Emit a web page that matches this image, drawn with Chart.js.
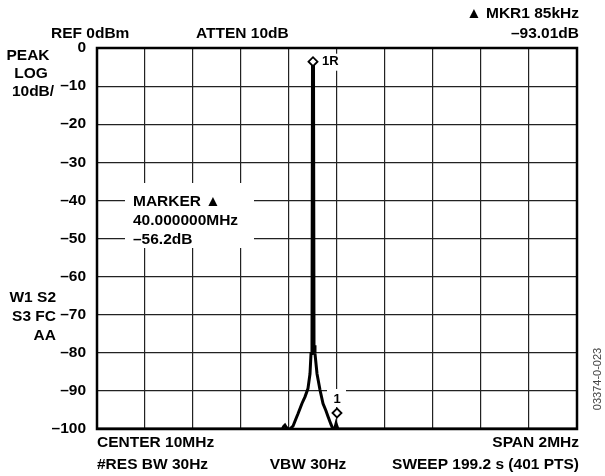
<!DOCTYPE html>
<html>
<head>
<meta charset="utf-8">
<script src="https://cdn.jsdelivr.net/npm/chart.js@4"></script>
<style>
  html, body { margin: 0; padding: 0; background: #fff; }
  #wrap { width: 605px; height: 476px; }
</style>
</head>
<body>
<div id="wrap"><canvas id="specChart" width="605" height="476"></canvas></div>
<script>
// trace (MHz, dB)
const freqMHz = [9.000, 9.772, 9.778, 9.783, 9.789, 9.796, 9.806, 9.817, 9.829, 9.8375, 9.846, 9.854, 9.867, 9.879, 9.8875,
                 9.8917, 9.8958, 9.8979, 9.9021, 9.9042, 9.9083,
                 9.9167, 9.929, 9.9417, 9.954, 9.9625, 9.975, 9.983, 9.992, 9.996, 10.004, 11.000];
const levelDb = [-100, -100, -99.3, -99.0, -99.6, -100, -99.9, -99.2, -97.3, -96.0, -94.6, -93.3, -91.5, -89.4, -85.5,
                 -80.2, -78, -4.5, -4.5, -78, -80.2,
                 -85.5, -89.7, -93.3, -95.2, -96.7, -98.8, -100, -99.6, -98.6, -100, -100];

const markerFreq = [9.9, 10.0];
const markerDb = [-3.6, -95.8];
const markerNames = ['1R', '1'];

const yTicks = [0, -10, -20, -30, -40, -50, -60, -70, -80, -90, -100];
const xMin = 9, xMax = 11, xStep = 0.2;

const FONT = '"Liberation Sans", Arial, sans-serif';
const TXT = 'bold 15.5px ' + FONT;

const annotations = {
    id: 'annotations',
    beforeDatasetsDraw(chart) {
        const ctx = chart.ctx;
        const a = chart.chartArea;
        const x = chart.scales.x, y = chart.scales.y;
        ctx.save();
        // white boxes that cut the grid behind the labels
        ctx.fillStyle = '#fff';
        ctx.fillRect(125, 183, 129, 65);
        const m0x = x.getPixelForValue(markerFreq[0]), m0y = y.getPixelForValue(markerDb[0]);
        ctx.fillRect(m0x + 7, m0y - 8, 24, 17);
        const m1x = x.getPixelForValue(markerFreq[1]), m1y = y.getPixelForValue(markerDb[1]);
        ctx.fillRect(m1x - 10, m1y - 24, 19, 18);
        // plot frame
        ctx.strokeStyle = '#000';
        ctx.lineWidth = 2.5;
        ctx.strokeRect(a.left, a.top, a.right - a.left, a.bottom - a.top);
        ctx.restore();
    },
    afterDraw(chart) {
        const ctx = chart.ctx;
        const x = chart.scales.x, y = chart.scales.y;
        ctx.save();
        ctx.fillStyle = '#000';
        ctx.font = TXT;
        ctx.textBaseline = 'alphabetic';

        ctx.textAlign = 'left';
        ctx.fillText('REF 0dBm', 51, 38);
        ctx.fillText('ATTEN 10dB', 196, 38);
        ctx.textAlign = 'right';
        ctx.fillText('\u25B2 MKR1 85kHz', 579, 18);
        ctx.fillText('\u201393.01dB', 579, 38);

        ctx.textAlign = 'center';
        ctx.fillText('PEAK', 28, 60);
        ctx.fillText('LOG', 31, 78);
        ctx.fillText('10dB/', 33, 96);
        ctx.textAlign = 'right';
        ctx.fillText('W1 S2', 56, 302);
        ctx.fillText('S3 FC', 56, 321);
        ctx.fillText('AA', 56, 340);

        ctx.textAlign = 'left';
        ctx.fillText('MARKER \u25B2', 133, 206);
        ctx.fillText('40.000000MHz', 133, 225);
        ctx.fillText('\u201356.2dB', 133, 244);

        ctx.fillText('CENTER 10MHz', 97, 447);
        ctx.fillText('#RES BW 30Hz', 97, 469);
        ctx.textAlign = 'center';
        ctx.fillText('VBW 30Hz', 308, 469);
        ctx.textAlign = 'right';
        ctx.fillText('SPAN 2MHz', 579, 447);
        ctx.fillText('SWEEP 199.2 s (401 PTS)', 579, 469);

        // marker labels
        ctx.font = 'bold 13px ' + FONT;
        ctx.textAlign = 'left';
        ctx.textBaseline = 'middle';
        ctx.fillText(markerNames[0], x.getPixelForValue(markerFreq[0]) + 9, y.getPixelForValue(markerDb[0]));
        ctx.textAlign = 'center';
        ctx.fillText(markerNames[1], x.getPixelForValue(markerFreq[1]), y.getPixelForValue(markerDb[1]) - 14);

        // figure code on the right edge
        ctx.font = '11px ' + FONT;
        ctx.fillStyle = '#444';
        ctx.translate(598, 379);
        ctx.rotate(-Math.PI / 2);
        ctx.textAlign = 'center';
        ctx.fillText('03374-0-023', 0, 0);
        ctx.restore();
    }
};

new Chart(document.getElementById('specChart'), {
    type: 'scatter',
    data: {
        datasets: [
            {
                label: 'markers',
                data: markerFreq.map((f, i) => ({ x: f, y: markerDb[i] })),
                pointStyle: 'rectRot',
                pointRadius: 4.5,
                backgroundColor: '#fff',
                borderColor: '#000',
                borderWidth: 1.8,
                order: 0
            },
            {
                label: 'trace',
                data: freqMHz.map((f, i) => ({ x: f, y: levelDb[i] })),
                showLine: true,
                pointRadius: 0,
                borderColor: '#000',
                borderWidth: 3,
                tension: 0,
                order: 1
            }
        ]
    },
    options: {
        responsive: false,
        animation: false,
        events: [],
        layout: { padding: { left: 0, top: 48, right: 28, bottom: 47 } },
        plugins: {
            legend: { display: false },
            tooltip: { enabled: false }
        },
        scales: {
            x: {
                type: 'linear',
                min: xMin,
                max: xMax,
                ticks: { stepSize: xStep, display: false },
                grid: { color: '#222', lineWidth: 1.2, drawTicks: false },
                border: { display: false },
                afterFit: s => { s.height = 0; }
            },
            y: {
                min: -100,
                max: 0,
                afterBuildTicks: s => { s.ticks = yTicks.map(v => ({ value: v })); },
                ticks: {
                    color: '#000',
                    font: { family: FONT, size: 15.5, weight: 'bold' },
                    padding: 11,
                    callback: v => v === 0 ? '0' : '\u2013' + Math.abs(v)
                },
                grid: { color: '#222', lineWidth: 1.2, drawTicks: false },
                border: { display: false },
                afterFit: s => { s.width = 97; }
            }
        }
    },
    plugins: [annotations]
});
</script>
</body>
</html>
